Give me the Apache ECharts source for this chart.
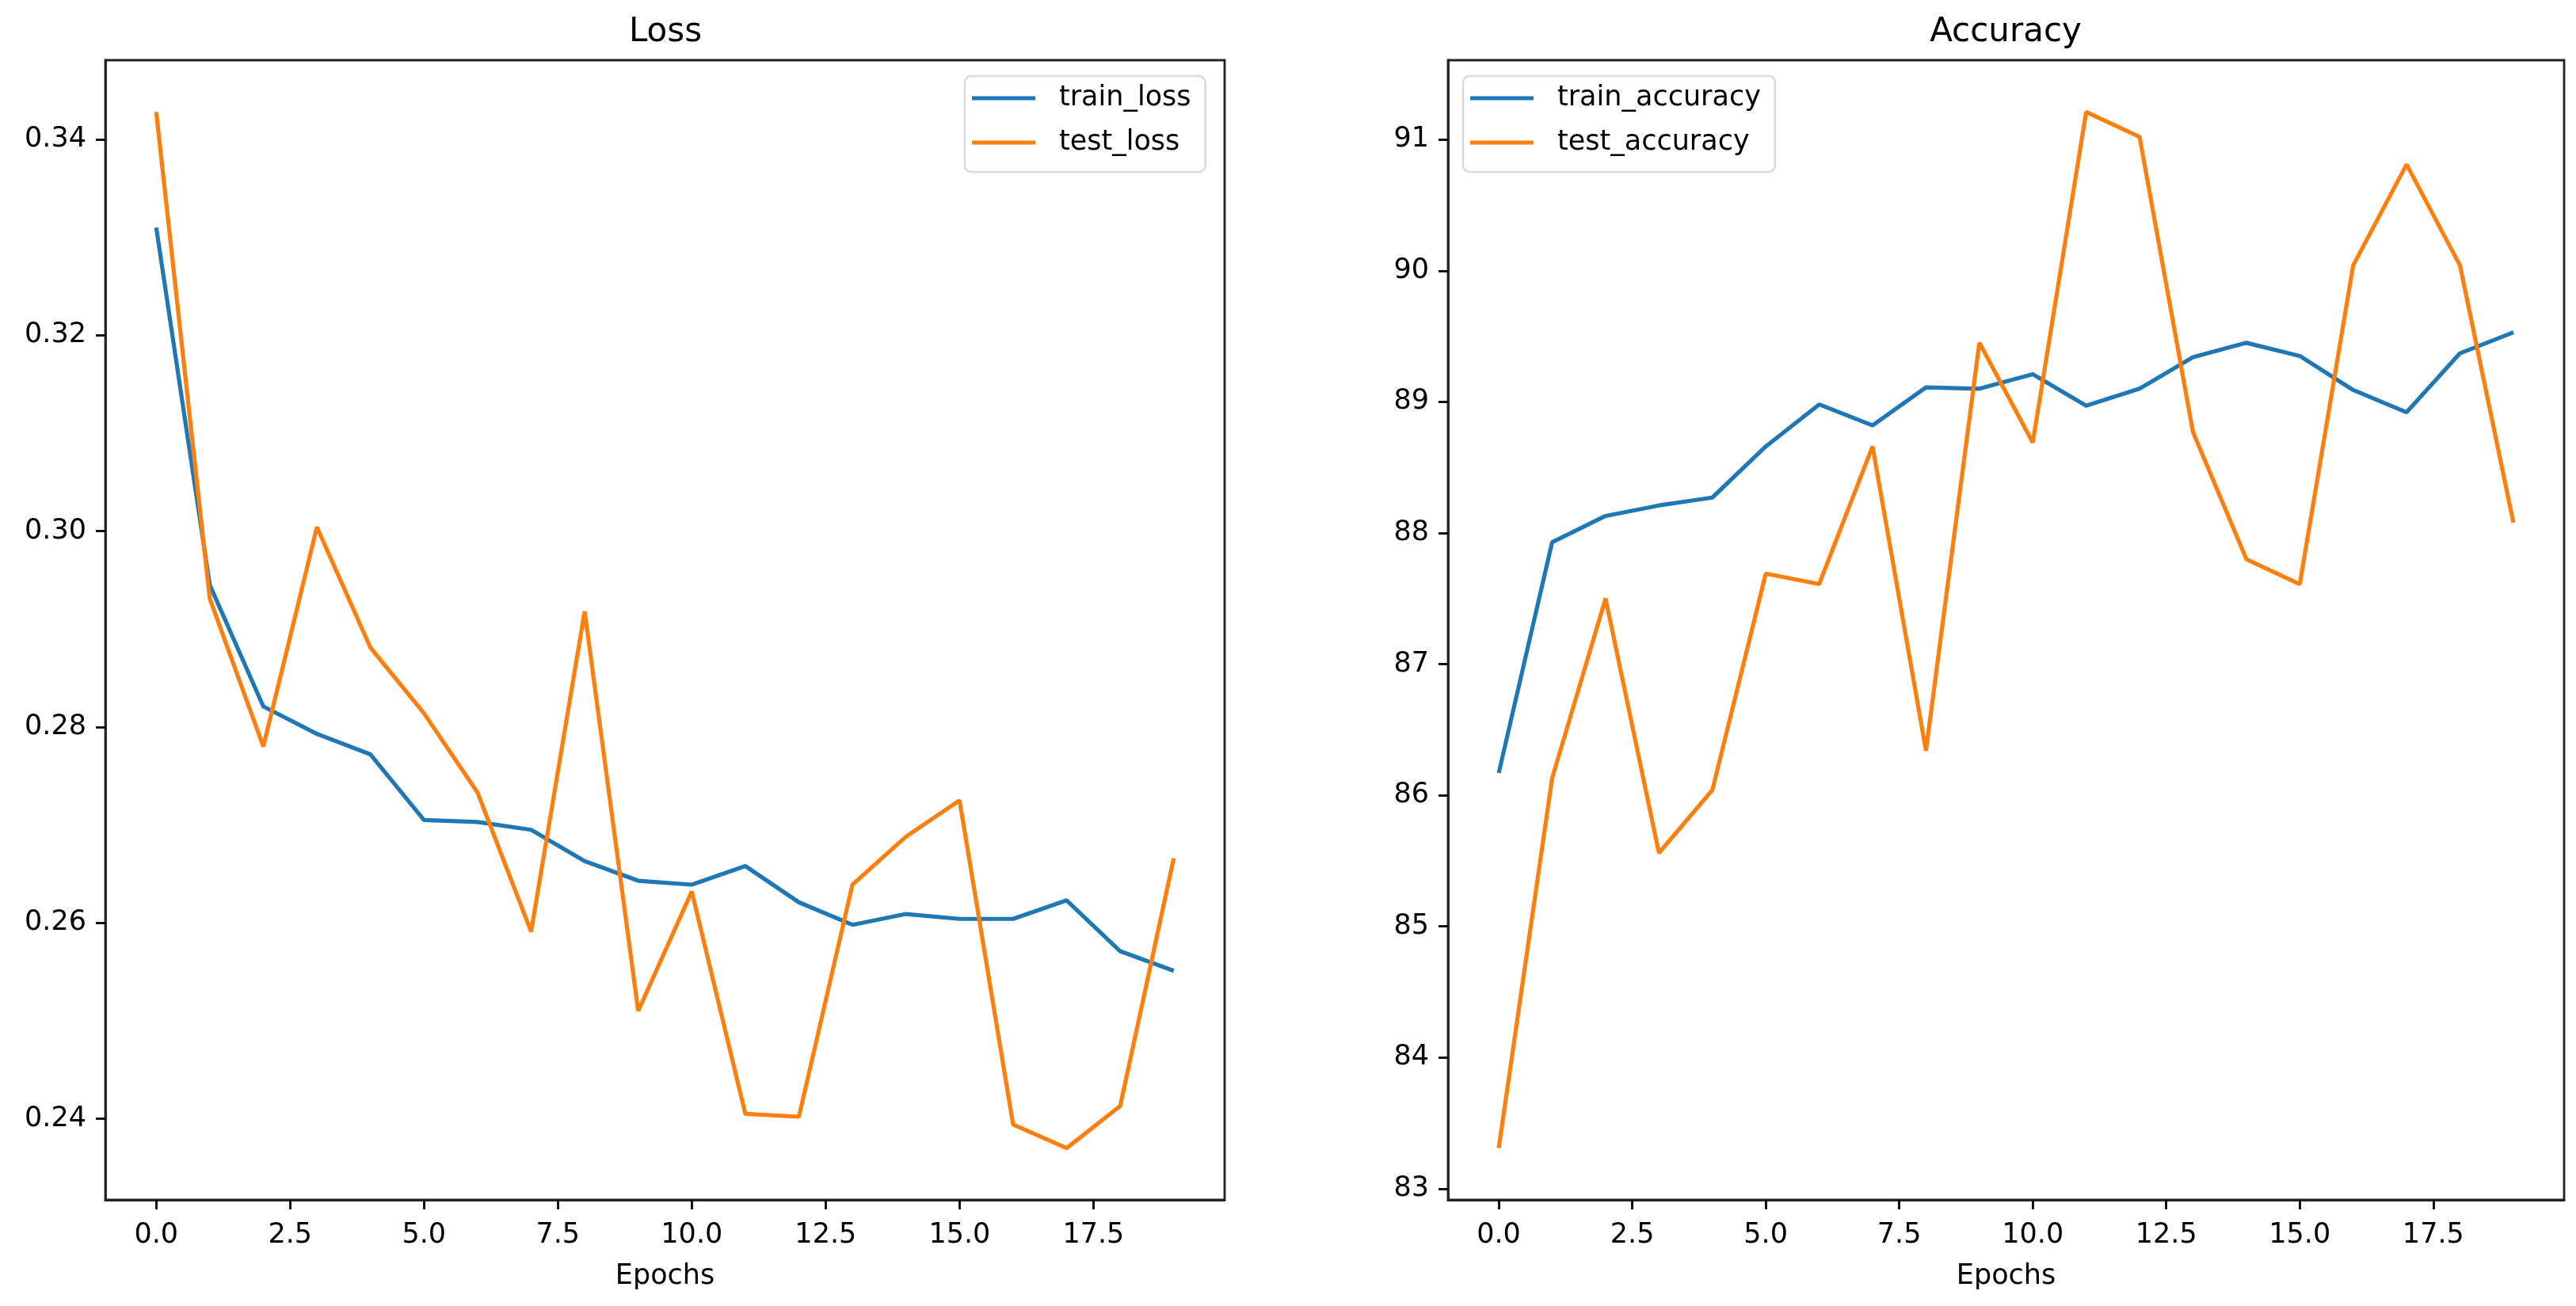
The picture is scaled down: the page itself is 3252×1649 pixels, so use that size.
<!DOCTYPE html>
<html><head><meta charset="utf-8">
<script src="https://cdn.jsdelivr.net/npm/echarts@6/dist/echarts.min.js"></script>
<style>html,body{margin:0;padding:0;background:#fff}#c{width:3252px;height:1649px}</style>
</head><body><div id="c"></div>
<script>
const epochs = [0,1,2,3,4,5,6,7,8,9,10,11,12,13,14,15,16,17,18,19];
const trainLoss = [0.3310,0.2945,0.2821,0.2793,0.2772,0.2705,0.2703,0.2695,0.2663,0.2643,0.2639,0.2658,0.2621,0.2598,0.2609,0.2604,0.2604,0.2623,0.2571,0.2551];
const testLoss = [0.3428,0.2931,0.2780,0.3004,0.2881,0.2814,0.2733,0.2591,0.2918,0.2510,0.2632,0.2405,0.2402,0.2639,0.2688,0.2725,0.2394,0.2370,0.2413,0.2666];
const trainAcc = [86.17,87.93,88.13,88.21,88.27,88.66,88.98,88.82,89.11,89.10,89.21,88.97,89.10,89.34,89.45,89.35,89.09,88.92,89.37,89.53];
const testAcc = [83.31,86.13,87.50,85.56,86.04,87.69,87.61,88.66,86.34,89.45,88.69,91.21,91.02,88.77,87.80,87.61,90.04,90.81,90.04,88.08];
const xTicks = [0,2.5,5,7.5,10,12.5,15,17.5];
const lossTicks = [0.24,0.26,0.28,0.30,0.32,0.34];
const accTicks = [83,84,85,86,87,88,89,90,91];
const titles = ['Loss','Accuracy'];
const xName = 'Epochs';

const BLUE = '#1f77b4', ORANGE = '#ff7f0e';
const FONT = 'DejaVu Sans';

function pad(arr){ const mn=Math.min(...arr), mx=Math.max(...arr), m=(mx-mn)*0.05; return [mn-m, mx+m]; }
const xr = pad(epochs);
const lr = pad(trainLoss.concat(testLoss));
const ar = pad(trainAcc.concat(testAcc));

const tickStyle = {show:true, inside:false, length:12, lineStyle:{color:'#000', width:2.8}};
const lineAx = {show:true, onZero:false, lineStyle:{color:'#222', width:2.8}};

function xAxis(gi){
  return {type:'value', gridIndex:gi, min:xr[0], max:xr[1],
    name:xName, nameLocation:'middle', nameGap:79,
    nameTextStyle:{fontFamily:FONT, fontSize:35, color:'#000'},
    axisLine:lineAx, splitLine:{show:false},
    axisTick:Object.assign({customValues:xTicks}, tickStyle),
    axisLabel:{customValues:xTicks, margin:27, fontFamily:FONT, fontSize:35, color:'#000', formatter:v=>v.toFixed(1)}};
}
function yAxis(gi, r, ticks, fmt){
  return {type:'value', gridIndex:gi, min:r[0], max:r[1], scale:true,
    axisLine:lineAx, splitLine:{show:false},
    axisTick:Object.assign({customValues:ticks}, tickStyle),
    axisLabel:{customValues:ticks, margin:24, fontFamily:FONT, fontSize:35, color:'#000', formatter:fmt}};
}
function ser(name, data, color, gi){
  return {type:'line', name, xAxisIndex:gi, yAxisIndex:gi, data:epochs.map((e,i)=>[e,data[i]]),
    showSymbol:false, symbol:'none', lineStyle:{color, width:5.2}, itemStyle:{color}, animation:false};
}
function legend(left, names){
  return {left, top:96, orient:'vertical', data:names, icon:'rect', itemWidth:80, itemHeight:5, itemGap:10,
    backgroundColor:'#fff', borderColor:'#d9d9d9', borderWidth:2.5, borderRadius:8, padding:[5,18,14,9],
    textStyle:{fontFamily:FONT, fontSize:35, color:'#000', lineHeight:46, padding:[0,0,0,25]}};
}

const chart = echarts.init(document.getElementById('c'), null, {renderer:'canvas'});
chart.setOption({
  backgroundColor:'#fff',
  animation:false,
  title:[
    {text:titles[0], left:840, top:20, textAlign:'center', padding:0, textStyle:{fontFamily:FONT, fontSize:42, fontWeight:'normal', color:'#000'}},
    {text:titles[1], left:2532, top:20, textAlign:'center', padding:0, textStyle:{fontFamily:FONT, fontSize:42, fontWeight:'normal', color:'#000'}}
  ],
  grid:[
    {left:133, top:76, width:1413, height:1439, show:true, borderColor:'#222', borderWidth:2.8, backgroundColor:'transparent'},
    {left:1828, top:76, width:1409, height:1439, show:true, borderColor:'#222', borderWidth:2.8, backgroundColor:'transparent'}
  ],
  xAxis:[xAxis(0), xAxis(1)],
  yAxis:[yAxis(0, lr, lossTicks, v=>v.toFixed(2)), yAxis(1, ar, accTicks, v=>String(Math.round(v)))],
  legend:[legend(1218, ['train_loss','test_loss']), legend(1847, ['train_accuracy','test_accuracy'])],
  series:[
    ser('train_loss', trainLoss, BLUE, 0),
    ser('test_loss', testLoss, ORANGE, 0),
    ser('train_accuracy', trainAcc, BLUE, 1),
    ser('test_accuracy', testAcc, ORANGE, 1)
  ]
});
</script></body></html>
